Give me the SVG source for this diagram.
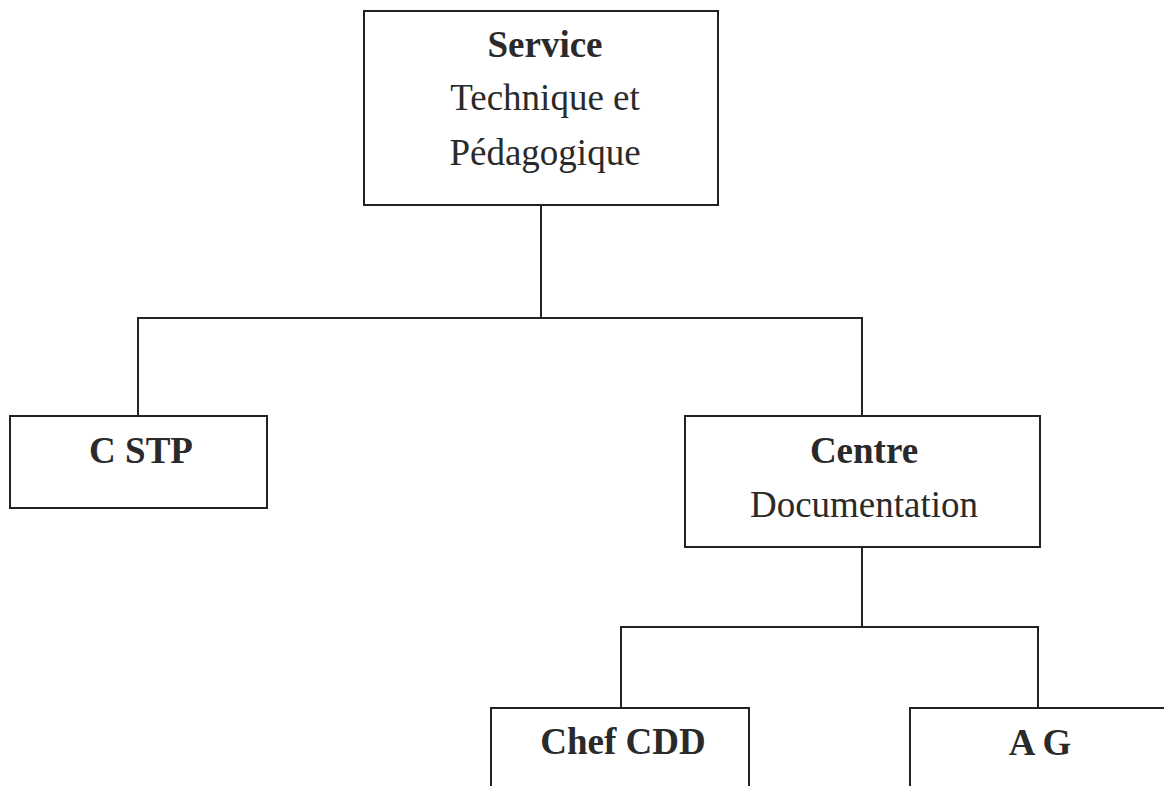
<svg xmlns="http://www.w3.org/2000/svg" width="1164" height="786" viewBox="0 0 1164 786">
<style>
.box{fill:#fff;stroke:#222;stroke-width:2}
.ln{fill:none;stroke:#222;stroke-width:2}
text{font-family:"Liberation Serif","Times New Roman",serif;font-size:37px;fill:#2a2a2a;text-anchor:middle}
.b{font-weight:bold}
</style>
<rect width="1164" height="786" fill="#fff"/>
<g id="connectors">
<path class="ln" d="M541 205V318M138 416V318H862V416"/>
<path class="ln" d="M862 547V627M621 708V627H1038V708"/>
</g>
<g id="service">
<rect class="box" x="364" y="11" width="354" height="194"/>
<text class="b" x="545" y="57">Service</text>
<text x="545" y="110">Technique et</text>
<text x="545" y="165">Pédagogique</text>
</g>
<g id="cstp">
<rect class="box" x="10" y="416" width="257" height="92"/>
<text class="b" x="141" y="463">C STP</text>
</g>
<g id="centre">
<rect class="box" x="685" y="416" width="355" height="131"/>
<text class="b" x="864" y="463">Centre</text>
<text x="864" y="517">Documentation</text>
</g>
<g id="chef">
<rect class="box" x="491" y="708" width="258" height="100"/>
<text class="b" x="623" y="754">Chef CDD</text>
</g>
<g id="ag">
<rect class="box" x="910" y="708" width="258" height="100"/>
<text class="b" x="1040" y="755">A G</text>
</g>
</svg>
